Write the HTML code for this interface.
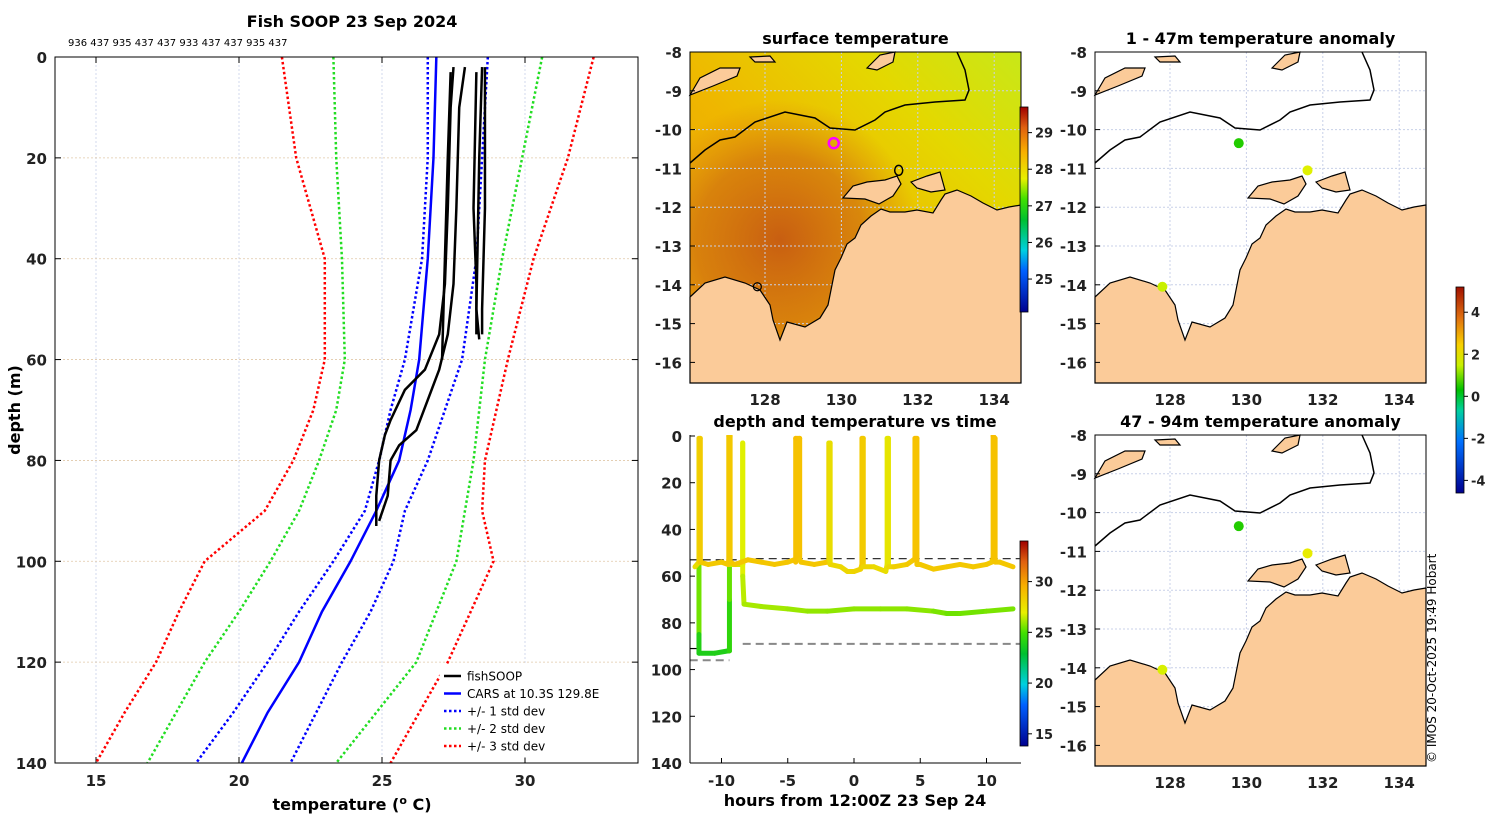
<!DOCTYPE html>
<html><head><meta charset="utf-8"><style>
html,body{margin:0;padding:0;background:#fff}
svg{display:block}
text{font-family:"DejaVu Sans","Liberation Sans",sans-serif}
</style></head><body>
<svg id="fig" width="1500" height="820" viewBox="0 0 1500 820" xmlns="http://www.w3.org/2000/svg">
<defs>
<linearGradient id="sstBase" x1="0" y1="1" x2="1" y2="0">
<stop offset="0" stop-color="#e69a08"/><stop offset="0.45" stop-color="#efb600"/><stop offset="0.75" stop-color="#e4d800"/><stop offset="1" stop-color="#c8e818"/>
</linearGradient>
<radialGradient id="sstWarm" cx="780" cy="240" r="140" gradientUnits="userSpaceOnUse">
<stop offset="0" stop-color="#c65a12" stop-opacity="0.95"/><stop offset="0.6" stop-color="#d07010" stop-opacity="0.7"/><stop offset="1" stop-color="#d88010" stop-opacity="0"/>
</radialGradient>
<linearGradient id="jet" x1="0" y1="1" x2="0" y2="0">
<stop offset="0" stop-color="#00008f"/><stop offset="0.2" stop-color="#0060ff"/><stop offset="0.3" stop-color="#00d0e0"/><stop offset="0.45" stop-color="#00c030"/><stop offset="0.55" stop-color="#40e000"/><stop offset="0.65" stop-color="#e8f000"/><stop offset="0.78" stop-color="#f8b000"/><stop offset="0.9" stop-color="#e06010"/><stop offset="1" stop-color="#a00000"/>
</linearGradient>
<linearGradient id="anom" x1="0" y1="1" x2="0" y2="0">
<stop offset="0" stop-color="#00008f"/><stop offset="0.25" stop-color="#0070ff"/><stop offset="0.4" stop-color="#00d0a0"/><stop offset="0.5" stop-color="#00c000"/><stop offset="0.62" stop-color="#c8f000"/><stop offset="0.72" stop-color="#f8d000"/><stop offset="0.85" stop-color="#e07010"/><stop offset="1" stop-color="#a01000"/>
</linearGradient>
<clipPath id="clipL"><rect x="55" y="57" width="583" height="706"/></clipPath>
<clipPath id="clipB"><rect x="690" y="435" width="331" height="328"/></clipPath>
</defs>
<g id="left"></g>
<g id="mapTop"></g>
<g id="mapA1"></g>
<g id="mapA2"></g>
<g id="tdp"></g>
<text transform="translate(1436,763) rotate(-90)" font-size="12">© IMOS 20-Oct-2025 19:49 Hobart</text>
</svg>
<script>
// ===== left profile data =====
const depthStd = [0,20,40,60,70,80,90,100,110,120,130,140];
const carsMean = [26.9,26.8,26.6,26.3,26.0,25.6,24.8,23.9,22.9,22.1,21.0,20.1];
const std1Lo = [26.6,26.6,26.4,25.8,25.3,24.9,24.4,23.3,22.1,21.0,19.8,18.5];
const std1Hi = [28.7,28.5,28.3,27.8,27.2,26.6,25.8,25.4,24.6,23.6,22.7,21.8];
const std2Lo = [23.3,23.4,23.6,23.7,23.4,22.8,22.1,21.1,20.0,18.8,17.8,16.8];
const std2Hi = [30.6,29.9,29.2,28.6,28.4,28.2,27.9,27.6,26.9,26.2,24.8,23.4];
const std3Lo = [21.5,22.0,23.0,23.0,22.6,21.9,20.9,18.8,17.9,17.1,16.0,15.0];
const std3Hi = [32.4,31.5,30.3,29.4,29.0,28.6,28.5,28.9,28.1,27.3,26.3,25.3];
const fishT = [
 [27.5,27.4,27.3,27.2,27.0,26.5,25.8,25.3,25.1,24.9,24.8,24.8],
 [27.9,27.7,27.6,27.5,27.3,27.0,26.6,26.2,25.6,25.3,25.2,24.9],
 [28.5,28.4,28.3,28.4],[28.6,28.6,28.5,28.5],[28.3,28.2,28.3,28.3],[27.4,27.3,27.2,27.1]];
const fishD = [
 [2,10,30,45,55,62,66,72,75,80,87,93],
 [2,10,30,45,55,62,68,74,77,80,87,92],
 [2,20,50,56],[2,30,50,55],[3,30,45,55],[3,20,40,60]];
const tempTicks = [15,20,25,30];
const depthTicks = [0,20,40,60,80,100,120,140];
// ===== depth vs time data =====
const hoursA = [-12,-11.7,-11.7,-11.6,-11.6,-11,-10,-9.5,-9.45,-9.45,-9.35,-9.35,-9,-8,-7,-6,-5,-4.5,-4.4,-4.4,-4.1,-4.1,-4,-3,-2,-1.9,-1.9,-1.8,-1.8,-1,-0.5,0,0.5,0.6,0.6,0.7,0.7,1.5,2.4,2.5,2.5,2.6,2.6,3,4,4.5,4.6,4.6,4.75,4.75,5,6,7,8,9,10,10.4,10.5,10.5,10.65,10.65,11,12];
const depthA = [56,54,1,1,54,55,54,55,53,0,0,54,55,53,54,55,54,53,54,1,1,53,54,55,54,53,3,3,55,56,58,58,57,55,1,1,56,56,58,55,1,1,56,56,55,53,53,1,1,55,55,57,56,55,56,55,54,52,0,1,54,54,56];
const tempA = [27.8,27.8,28.4,28.4,28.6,28.6,28.6,28.6,28.6,28.6,28.6,28.6,28.6,28.7,28.7,28.7,28.7,28.7,28.7,29.0,29.0,28.7,28.7,28.7,28.7,28.5,27.5,27.5,28.0,28.0,28.0,28.1,28.2,28.3,28.8,28.8,28.2,28.0,27.8,27.6,27.2,27.2,27.8,28.2,28.5,28.6,28.6,29.0,29.0,28.6,28.6,28.6,28.6,28.6,28.6,28.6,28.6,28.6,29.0,29.0,28.7,28.7,28.6];
const hoursB = [-11.7,-11.7,-11.7,-10.5,-9.5,-9.4,-9.4,-9.4,-8.4,-8.4,-8.4,-8.3,-7,-5,-3.5,-2,0,2,4,6,7,8,10,12];
const depthB = [55,85,93,93,92,92,70,55,55,3,60,72,73,74,75,75,74,74,74,75,76,76,75,74];
const tempB = [27.0,24.3,24.0,24.0,24.1,24.1,25.0,26.0,27.5,27.2,26.8,26.3,26.3,26.2,26.1,26.0,26.0,26.0,26.0,25.9,25.6,25.6,25.7,25.8];
const timeTicks = [-10,-5,0,5,10];
const cbTicks = [15,20,25,30];
// ===== maps =====
const latTicks = [-8,-9,-10,-11,-12,-13,-14,-15,-16];
const lonTicks = [128,130,132,134];
const anomTicks = [4,2,0,-2,-4];
const sstTicks = [29,28,27,26,25];
const dotLon1 = [129.8,131.6,127.8];
const dotLat1 = [-10.35,-11.05,-14.05];
const dotCol1 = ['#22cc00','#e0f000','#c8f000'];
const dotLon2 = [129.8,131.6,127.8];
const dotLat2 = [-10.35,-11.05,-14.05];
const dotCol2 = ['#22cc00','#e8ec00','#d8f000'];

const NS='http://www.w3.org/2000/svg';
function mk(parent,tag,attrs,txt){const e=document.createElementNS(NS,tag);for(const k in attrs)e.setAttribute(k,attrs[k]);if(txt!==undefined)e.textContent=txt;parent.appendChild(e);return e;}

// ---- left panel ----
const L=document.getElementById('left');
const lx=t=>96+(t-15)*28.6, ly=d=>57+d*(706/140);
mk(L,'rect',{x:55,y:57,width:583,height:706,fill:'#fff'});
tempTicks.forEach(t=>{
 const g=mk(L,'line',{x1:lx(t),x2:lx(t),y1:57,y2:763,stroke:'#c8d0e8','stroke-dasharray':'2,2','stroke-width':0.8});
 
 mk(L,'line',{x1:lx(t),x2:lx(t),y1:763,y2:757,stroke:'#000'});mk(L,'line',{x1:lx(t),x2:lx(t),y1:57,y2:63,stroke:'#000'});
 const tl=mk(L,'text',{x:lx(t),y:786,'text-anchor':'middle','font-size':15,'font-weight':'bold',fill:'#222'},t);
 
});
depthTicks.forEach(d=>{
 if(d>0&&d<140){const g=mk(L,'line',{x1:55,x2:638,y1:ly(d),y2:ly(d),stroke:'#e0c8a8','stroke-dasharray':'2,2','stroke-width':0.8});
 }
 mk(L,'line',{x1:55,x2:61,y1:ly(d),y2:ly(d),stroke:'#000'});mk(L,'line',{x1:638,x2:632,y1:ly(d),y2:ly(d),stroke:'#000'});
 const tl=mk(L,'text',{x:47,y:ly(d)+6,'text-anchor':'end','font-size':15,'font-weight':'bold',fill:'#222'},d);
 
});
const cl=mk(L,'g',{'clip-path':'url(#clipL)'});
function prof(ts,ds,col,w,dash,name){
 const p=mk(cl,'polyline',{points:ts.map((t,i)=>lx(t)+','+ly(ds[i])).join(' '),fill:'none',stroke:col,'stroke-width':w});
 if(dash)p.setAttribute('stroke-dasharray',dash);
 
}
prof(std3Lo,depthStd,'#ff0000',2.5,'2.5,2.5','std3-low-line');prof(std3Hi,depthStd,'#ff0000',2.5,'2.5,2.5','std3-high-line');
prof(std2Lo,depthStd,'#22dd22',2.5,'2.5,2.5','std2-low-line');prof(std2Hi,depthStd,'#22dd22',2.5,'2.5,2.5','std2-high-line');
prof(std1Lo,depthStd,'#0000ff',2.5,'2.5,2.5','std1-low-line');prof(std1Hi,depthStd,'#0000ff',2.5,'2.5,2.5','std1-high-line');
prof(carsMean,depthStd,'#0000ff',2.5,null,'cars-mean-line');
fishT.forEach((ts,i)=>prof(ts,fishD[i],'#000',2.5,null,'fishsoop-profile'));
mk(L,'rect',{x:55,y:57,width:583,height:706,fill:'none',stroke:'#000','stroke-width':1});
let tt=mk(L,'text',{x:352,y:27,'text-anchor':'middle','font-size':16,'font-weight':'bold'},'Fish SOOP 23 Sep 2024');
tt=mk(L,'text',{x:68,y:46,'font-size':10},'936 437 935 437 437 933 437 437 935 437');
tt=mk(L,'text',{x:352,y:810,'text-anchor':'middle','font-size':16,'font-weight':'bold'},'temperature (');
tt.innerHTML='temperature (<tspan dy="-6" font-size="11">o</tspan><tspan dy="6"> C)</tspan>';
tt=mk(L,'text',{transform:'translate(20,410) rotate(-90)','text-anchor':'middle','font-size':16,'font-weight':'bold'},'depth (m)');
const lg=mk(L,'g',{});
mk(lg,'rect',{x:440,y:665,width:197,height:92,fill:'#fff',stroke:'#fff'});
[['fishSOOP','#000',null],['CARS at 10.3S 129.8E','#0000ff',null],['+/- 1 std dev','#0000ff','2.5,2.5'],['+/- 2 std dev','#22dd22','2.5,2.5'],['+/- 3 std dev','#ff0000','2.5,2.5']].forEach((e,i)=>{
 const y=676+i*17.5;const g=mk(lg,'g',{});
 const l=mk(g,'line',{x1:444,x2:461,y1:y,y2:y,stroke:e[1],'stroke-width':2.5});if(e[2])l.setAttribute('stroke-dasharray',e[2]);
 mk(g,'text',{x:467,y:y+4.5,'font-size':12},e[0]);
});

// ---- maps ----
function mapFrame(G,x0,y0,title,showLat,sst){
 const px=lon=>x0+75+(lon-128)*38.2, py=lat=>y0+(-8-lat)*38.8;
 const W=331,H=331;
 if(sst){
  mk(G,'rect',{x:x0,y:y0,width:W,height:H,fill:'url(#sstBase)'});
  mk(G,'rect',{x:x0,y:y0,width:W,height:H,fill:'url(#sstWarm)'});
 } else mk(G,'rect',{x:x0,y:y0,width:W,height:H,fill:'#fff'});
 lonTicks.forEach(l=>{const g=mk(G,'line',{x1:px(l),x2:px(l),y1:y0,y2:y0+H,stroke:'#c8d0e8','stroke-dasharray':'2,2'});});
 latTicks.forEach(l=>{const g=mk(G,'line',{x1:x0,x2:x0+W,y1:py(l),y2:py(l),stroke:'#c8d0e8','stroke-dasharray':'2,2'});});
 const dx=x0-1095, dy=y0-52;
 const sh=pts=>pts.map(p=>(p[0]+dx)+','+(p[1]+dy)).join(' ');
 const landMain=[[1095,297],[1110,283],[1130,277],[1150,283],[1165,290],[1175,305],[1178,320],[1185,340],[1192,322],[1210,327],[1225,318],[1233,305],[1236,290],[1240,270],[1246,258],[1252,244],[1260,238],[1266,225],[1276,216],[1286,209],[1295,212],[1310,212],[1322,210],[1338,213],[1346,200],[1350,194],[1362,190],[1376,196],[1388,203],[1402,210],[1414,207],[1426,205],[1426,383],[1095,383]];
 const isl1=[[1248,198],[1258,186],[1272,182],[1290,180],[1302,176],[1306,184],[1298,196],[1284,204],[1270,199]];
 const isl2=[[1316,182],[1332,176],[1345,172],[1350,190],[1336,192],[1322,188]];
 const timor=[[1095,95],[1105,78],[1125,68],[1145,68],[1142,76],[1118,86]];
 const smallI=[[1155,57],[1175,56],[1180,62],[1160,62]];
 const smallI2=[[1272,68],[1285,55],[1300,52],[1298,62],[1282,70]];
 [landMain,isl1,isl2,timor,smallI,smallI2].forEach(p=>{const e=mk(G,'polygon',{points:sh(p),fill:'#fbcb99',stroke:'#000','stroke-width':1.2});});
 const cont=[[1095,163],[1110,150],[1125,140],[1140,137],[1160,122],[1190,112],[1220,118],[1235,128],[1260,130],[1280,120],[1290,112],[1310,105],[1340,102],[1370,100],[1374,90],[1370,70],[1362,52]];
 const c=mk(G,'polyline',{points:sh(cont),fill:'none',stroke:'#000','stroke-width':1.5});
 mk(G,'rect',{x:x0,y:y0,width:W,height:H,fill:'none',stroke:'#000','stroke-width':1});
 if(showLat) latTicks.forEach(l=>{const t=mk(G,'text',{x:x0-8,y:py(l)+6,'text-anchor':'end','font-size':15,'font-weight':'bold',fill:'#222'},l);mk(G,'line',{x1:x0,x2:x0+5,y1:py(l),y2:py(l),stroke:'#000'});});
 const t=mk(G,'text',{x:x0+W/2,y:y0-8,'text-anchor':'middle','font-size':16,'font-weight':'bold'},title);
 return {px,py};
}
function lonLabels(G,x0,y){const px=lon=>x0+75+(lon-128)*38.2;lonTicks.forEach(l=>{const t=mk(G,'text',{x:px(l),y:y,'text-anchor':'middle','font-size':15,'font-weight':'bold',fill:'#222'},l);});}
const MT=document.getElementById('mapTop');
const m0=mapFrame(MT,690,52,'surface temperature',true,true);
lonLabels(MT,690,405);
let sh=mk(MT,'circle',{cx:m0.px(129.8),cy:m0.py(-10.35),r:5,fill:'none',stroke:'#ff00ff','stroke-width':2.5});
mk(MT,'ellipse',{cx:m0.px(131.5),cy:m0.py(-11.05),rx:4,ry:5,fill:'none',stroke:'#000','stroke-width':1.5});
mk(MT,'circle',{cx:m0.px(127.8),cy:m0.py(-14.05),r:4,fill:'none',stroke:'#000','stroke-width':1.2});
function colorbar(G,x,y1,y2,grad,ticks,vmin,vmax,name){
 const b=mk(G,'rect',{x:x,y:y1,width:8,height:y2-y1,fill:grad,stroke:'#000','stroke-width':0.8});
 ticks.forEach(v=>{const y=y2-(v-vmin)/(vmax-vmin)*(y2-y1);mk(G,'line',{x1:x+8,x2:x+12,y1:y,y2:y,stroke:'#000'});const t=mk(G,'text',{x:x+15,y:y+5,'font-size':13,'font-weight':'bold',fill:'#222'},v);});
}
colorbar(MT,1020,107,312,'url(#jet)',sstTicks,24.1,29.7,'sst-colorbar');
const A1=document.getElementById('mapA1');
const m1=mapFrame(A1,1095,52,'1 - 47m temperature anomaly',true,false);
lonLabels(A1,1095,405);
dotLon1.forEach((lo,i)=>{const d=mk(A1,'circle',{cx:m1.px(lo),cy:m1.py(dotLat1[i]),r:5,fill:dotCol1[i]});});
const A2=document.getElementById('mapA2');
const m2=mapFrame(A2,1095,435,'47 - 94m temperature anomaly',true,false);
lonLabels(A2,1095,788);
dotLon2.forEach((lo,i)=>{const d=mk(A2,'circle',{cx:m2.px(lo),cy:m2.py(dotLat2[i]),r:5,fill:dotCol2[i]});});
colorbar(A1,1456,287,493,'url(#anom)',anomTicks,-4.6,5.2,'anomaly-colorbar');

// ---- depth vs time ----
const T=document.getElementById('tdp');
const tx=h=>854+h*13.25, ty=d=>436+d*(327/140);
mk(T,'rect',{x:690,y:435,width:331,height:328,fill:'#fff'});
const stops=[[14,[0,0,143]],[17,[0,64,255]],[20,[0,200,230]],[23,[0,190,50]],[25,[60,220,0]],[27,[224,240,0]],[29,[248,190,0]],[31,[230,110,16]],[34,[160,0,0]]];
function jet(v){if(v<=stops[0][0])return 'rgb('+stops[0][1]+')';for(let i=1;i<stops.length;i++){if(v<=stops[i][0]){const a=stops[i-1],b=stops[i],f=(v-a[0])/(b[0]-a[0]);return 'rgb('+a[1].map((c,k)=>Math.round(c+(b[1][k]-c)*f)).join(',')+')';}}return 'rgb('+stops[stops.length-1][1]+')';}
const ct=mk(T,'g',{'clip-path':'url(#clipB)'});
[[[-12.4,-8.4],53,'#000','8,5',1.2],[[-8.4,12.5],52.5,'#333','8,5',1.2],[[-8.4,12.5],89,'#888','8,5',2],[[-12.4,-9.4],96,'#888','8,5',2],[[-12.4,-11.7],91,'#000',null,1.2]].forEach(r=>{
 const l=mk(ct,'line',{x1:tx(r[0][0]),x2:tx(r[0][1]),y1:ty(r[1]),y2:ty(r[1]),stroke:r[2],'stroke-width':r[4]});if(r[3])l.setAttribute('stroke-dasharray',r[3]);
 
});
function trace(hs,ds,ts,name){
 for(let i=1;i<hs.length;i++){
  const s=mk(ct,'line',{x1:tx(hs[i-1]),y1:ty(ds[i-1]),x2:tx(hs[i]),y2:ty(ds[i]),stroke:jet((ts[i-1]+ts[i])/2),'stroke-width':5,'stroke-linecap':'round'});
  
 }
}
trace(hoursB,depthB,tempB,'deep-trace-segment');
trace(hoursA,depthA,tempA,'float-trace-segment');
mk(T,'line',{x1:690,x2:690,y1:435,y2:763,stroke:'#000'});mk(T,'line',{x1:690,x2:1021,y1:763,y2:763,stroke:'#000'});
depthTicks.forEach(d=>{mk(T,'line',{x1:690,x2:695,y1:ty(d),y2:ty(d),stroke:'#000'});const t=mk(T,'text',{x:682,y:ty(d)+6,'text-anchor':'end','font-size':15,'font-weight':'bold',fill:'#222'},d);});
timeTicks.forEach(h=>{mk(T,'line',{x1:tx(h),x2:tx(h),y1:763,y2:758,stroke:'#000'});const t=mk(T,'text',{x:tx(h),y:786,'text-anchor':'middle','font-size':15,'font-weight':'bold',fill:'#222'},h);});
tt=mk(T,'text',{x:855,y:427,'text-anchor':'middle','font-size':16,'font-weight':'bold'},'depth and temperature vs time');
tt=mk(T,'text',{x:855,y:806,'text-anchor':'middle','font-size':16,'font-weight':'bold'},'hours from 12:00Z 23 Sep 24');
colorbar(T,1020,541,746,'url(#jet)',cbTicks,13.8,34.0,'temperature-colorbar');
</script>
</body></html>
